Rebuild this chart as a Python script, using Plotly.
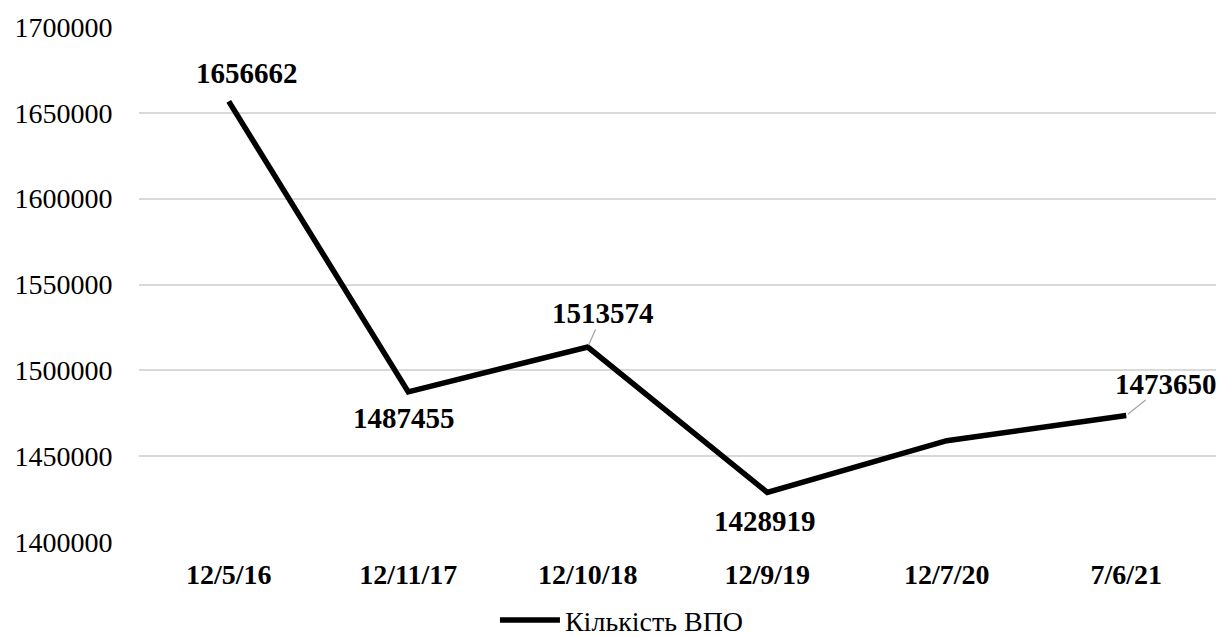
import plotly.graph_objects as go

categories = ["12/5/16", "12/11/17", "12/10/18", "12/9/19", "12/7/20", "7/6/21"]
values = [1656662, 1487455, 1513574, 1428919, 1459000, 1473650]
labelled = [True, True, True, True, False, True]
series_name = "Кількість ВПО"
ytick_vals = [1400000, 1450000, 1500000, 1550000, 1600000, 1650000, 1700000]

FONT = "Liberation Serif, Times New Roman, serif"
LEGEND_FONT = "'Liberation Serif', 'DejaVu Serif', serif"

# label offsets (pixels, +y = down) and whether a leader line is drawn
label_offsets = [(18, -28, False), (-4, 26, False), (15, -34, True), (-2, 29, False), (0, 0, False), (40, -32, True)]

fig = go.Figure()
fig.add_trace(go.Scatter(
    x=list(range(len(categories))), y=values, mode="lines", name=series_name,
    line=dict(color="black", width=5.5),
))

annotations = []
for i, (v, show) in enumerate(zip(values, labelled)):
    if not show:
        continue
    ax, ay, leader = label_offsets[i]
    if leader:
        annotations.append(dict(
            x=i, y=v, xref="x", yref="y", text="<b>%d</b>" % v,
            showarrow=True, ax=ax, ay=ay, arrowhead=0, arrowwidth=1.3,
            arrowcolor="#a6a6a6", standoff=2, borderpad=0,
            font=dict(family=FONT, size=29, color="black"),
        ))
    else:
        annotations.append(dict(
            x=i, y=v, xref="x", yref="y", text="<b>%d</b>" % v,
            showarrow=False, xshift=ax, yshift=-ay,
            font=dict(family=FONT, size=29, color="black"),
        ))

fig.update_layout(
    width=1219, height=637,
    margin=dict(l=139, r=3, t=27, b=95, autoexpand=False),
    paper_bgcolor="white", plot_bgcolor="white",
    font=dict(family=FONT, size=28, color="black"),
    showlegend=True,
    legend=dict(orientation="h", x=0.3305, xanchor="left", y=-0.152, yanchor="middle",
                itemwidth=60,
                font=dict(family=LEGEND_FONT, size=28, color="black")),
    annotations=annotations,
    xaxis=dict(
        range=[-0.5, len(categories) - 0.5],
        tickmode="array", tickvals=list(range(len(categories))),
        ticktext=["<b>%s</b>" % c for c in categories],
        tickfont=dict(family=FONT, size=28, color="black"),
        showgrid=False, zeroline=False, showline=False,
        ticks="outside", ticklen=7, tickcolor="rgba(0,0,0,0)",
    ),
    yaxis=dict(
        range=[1400000, 1700000],
        tickmode="array", tickvals=ytick_vals, ticktext=[str(t) for t in ytick_vals],
        tickfont=dict(family=FONT, size=28, color="black"),
        showgrid=True, gridcolor="#d9d9d9", gridwidth=1.5,
        zeroline=False, showline=False,
        ticks="outside", ticklen=20, tickcolor="rgba(0,0,0,0)",
    ),
)

fig.write_html("out.html")
